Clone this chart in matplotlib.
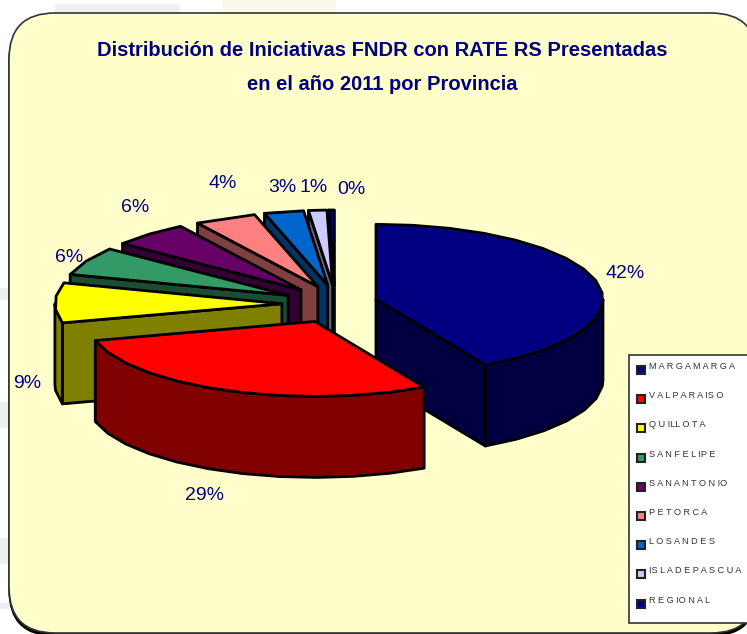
import numpy as np
import matplotlib
matplotlib.use('Agg')
import matplotlib.pyplot as plt
from matplotlib.patches import Polygon, Rectangle, FancyBboxPatch

plt.rcParams['font.family'] = ['Liberation Sans', 'DejaVu Sans']

# legend names, letter spaced as in the original
provinces = ['M A R G A M A R G A', 'V A L P A R A IS O', 'Q U ILL O T A', 'S A N F E L IP E',
             'S A N A N T O N IO', 'P E T O R C A', 'L O S A N D E S',
             'IS L A D E P A S C U A', 'R E G IO N A L']
shares = [42.0, 28.9, 8.6, 6.1, 5.5, 4.4, 2.8, 1.3, 0.4]
colors = ['#000080', '#FF0000', '#FFFF00', '#339966', '#660066',
          '#FF8080', '#0066CC', '#CCCCFF', '#000080']
explode = [0.94, 1.14, 1.18, 1.17, 1.13, 0.93, 0.83, 0.8, 1.0]

# pie geometry, in pixels of the picture
cx, cy = 335, 304
rx, ry = 227, 75
ex, ey = 45, 19
depth = 81
facet = 9            # degrees, the original outline is rough

# label centres
label_xy = [(625, 274), (204, 495), (27, 383), (69, 258), (135, 208),
            (223, 184), (282, 187), (314, 187), (351, 189)]


def rim(x0, y0, deg):
    t = np.radians(deg)
    return x0 + rx * np.sin(t), y0 - ry * np.cos(t)


def draw_slice(ax, start, end, pull, color, z):
    mid = np.radians((start + end) / 2)
    x0 = cx + ex * pull * np.sin(mid)
    y0 = cy - ey * np.cos(mid)
    n = max(2, int((end - start) / facet) + 1)
    angs = np.linspace(start, end, n)
    top = [rim(x0, y0, a) for a in angs]
    dark = tuple(0.5 * c for c in matplotlib.colors.to_rgb(color))
    style = dict(edgecolor='black', linewidth=2, joinstyle='round', zorder=z)

    # radial faces, only when they look at the viewer
    if np.sin(np.radians(start)) < 0:
        p = rim(x0, y0, start)
        ax.add_patch(Polygon([(x0, y0), p, (p[0], p[1] + depth), (x0, y0 + depth)],
                             facecolor=dark, **style))
    if -np.cos(np.radians(end + 90)) > 0:
        p = rim(x0, y0, end)
        ax.add_patch(Polygon([(x0, y0), p, (p[0], p[1] + depth), (x0, y0 + depth)],
                             facecolor=dark, **style))
    # outer wall
    lo, hi = max(start, 90), min(end, 270)
    if lo < hi:
        wall = sorted(set([a for a in angs if lo <= a <= hi] + [lo, hi]))
        up = [rim(x0, y0, a) for a in wall]
        down = [(x, y + depth) for x, y in up[::-1]]
        ax.add_patch(Polygon(up + down, facecolor=dark, **style))
    ax.add_patch(Polygon([(x0, y0)] + top, facecolor=color, **style))


fig = plt.figure(figsize=(7.47, 6.34), dpi=100)
ax = fig.add_axes([0, 0, 1, 1])
ax.set_xlim(0, 747)
ax.set_ylim(634, 0)
ax.axis('off')

# faint remains of the page behind the chart
for x, y, w, h, c in [(55, 4, 125, 9, '#F0F0F0'), (222, 0, 114, 13, '#FAFAEC'),
                      (0, 288, 9, 12, '#EEEEEE'), (0, 402, 9, 26, '#EEEEEE'),
                      (0, 538, 9, 26, '#EEEEEE'), (0, 603, 9, 6, '#EEEEEE')]:
    ax.add_patch(Rectangle((x, y), w, h, facecolor=c, edgecolor='none', zorder=0))

# panel with its shadow
box = dict(boxstyle='round,pad=0,rounding_size=46')
ax.add_patch(FancyBboxPatch((9, 16), 748, 620, facecolor='black', edgecolor='black',
                            linewidth=1, zorder=1, **box))
ax.add_patch(FancyBboxPatch((9, 13), 748, 620, facecolor='#FFFFCC', edgecolor='#333333',
                            linewidth=1.2, zorder=2, **box))

ax.text(382, 50, 'Distribución de Iniciativas FNDR con RATE RS Presentadas',
        ha='center', va='center', fontsize=14.5, fontweight='bold', color='#000080', zorder=5)
ax.text(382, 84, 'en el año 2011 por Provincia',
        ha='center', va='center', fontsize=14.5, fontweight='bold', color='#000080', zorder=5)

# slices, from the back of the pie to the front
edges = np.concatenate([[0], np.cumsum(shares)]) / np.sum(shares) * 360
order = sorted(range(len(shares)), key=lambda i: -np.cos(np.radians((edges[i] + edges[i + 1]) / 2)))
for z, i in enumerate(order):
    draw_slice(ax, edges[i], edges[i + 1], explode[i], colors[i], 10 + z)

for share, (x, y) in zip(shares, label_xy):
    ax.text(x, y, f'{share:.0f}%', ha='center', va='center', fontsize=14,
            color='#000080', zorder=40)

# legend box runs off the right edge of the picture
ax.add_patch(Rectangle((629, 355), 130, 268, facecolor='white', edgecolor='#333333',
                       linewidth=1.2, zorder=30))
for i, (name, c) in enumerate(zip(provinces, colors)):
    y = 370 + 29.2 * i
    ax.add_patch(Rectangle((637, y - 4), 8, 8, facecolor=c, edgecolor='#222222',
                           linewidth=1.5, zorder=31))
    ax.text(649, y - 3.5, name, ha='left', va='center', fontsize=6.6,
            color='#333333', zorder=31)

fig.savefig('out.png', dpi=100)
